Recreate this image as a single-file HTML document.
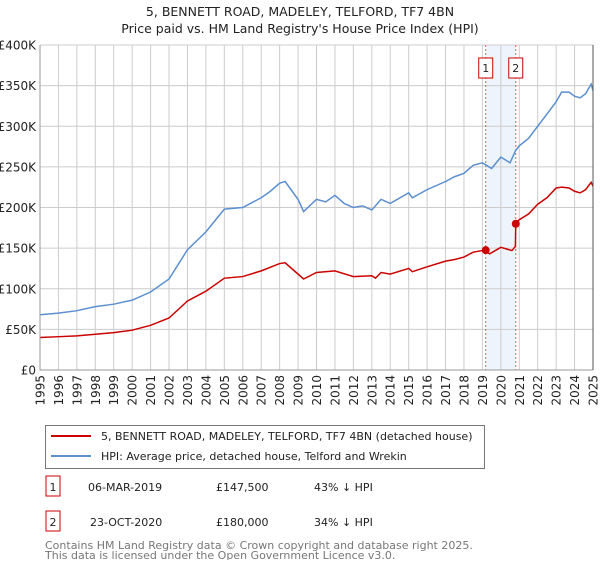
<!DOCTYPE html>
<html><head><meta charset="utf-8"><style>
body{margin:0;background:#fff;font-family:"Liberation Sans","DejaVu Sans",sans-serif;}
svg text{font-family:"DejaVu Sans","Liberation Sans",sans-serif;}
</style></head><body>
<svg id="c" width="600" height="560" viewBox="0 0 600 560" xmlns="http://www.w3.org/2000/svg">
<text x="300" y="16" text-anchor="middle" font-size="12.5" fill="#222">5, BENNETT ROAD, MADELEY, TELFORD, TF7 4BN</text>
<text x="300" y="33" text-anchor="middle" font-size="12.5" fill="#222">Price paid vs. HM Land Registry's House Price Index (HPI)</text>
<g id="grid"></g><g id="marks"></g><g id="axes"></g>
<g>
<rect x="45.5" y="425.5" width="439" height="43" fill="#fff" stroke="#777"/>
<line x1="51" y1="436" x2="91" y2="436" stroke="#cc0000" stroke-width="2"/>
<text x="101" y="440" font-size="11" fill="#222">5, BENNETT ROAD, MADELEY, TELFORD, TF7 4BN (detached house)</text>
<line x1="51" y1="456" x2="91" y2="456" stroke="#5b8fd0" stroke-width="2"/>
<text x="101" y="460" font-size="11" fill="#222">HPI: Average price, detached house, Telford and Wrekin</text>
</g>
<g font-size="11" fill="#222">
<rect x="46" y="476" width="14" height="20" fill="#fff" stroke="#cc0000"/><text x="53" y="491" text-anchor="middle">1</text>
<text x="88" y="491">06-MAR-2019</text><text x="216" y="491">£147,500</text><text x="314" y="491">43% ↓ HPI</text>
<rect x="46" y="511" width="14" height="20" fill="#fff" stroke="#cc0000"/><text x="53" y="526" text-anchor="middle">2</text>
<text x="90" y="526">23-OCT-2020</text><text x="216" y="526">£180,000</text><text x="314" y="526">34% ↓ HPI</text>
</g>
<text x="45" y="549" font-size="11" fill="#777">Contains HM Land Registry data © Crown copyright and database right 2025.</text>
<text x="45" y="559" font-size="11" fill="#777">This data is licensed under the Open Government Licence v3.0.</text>
</svg>
<script>
const hpiYears=[1995,1996,1997,1998,1999,2000,2001,2002,2003,2004,2005,2006,2007,2007.5,2008,2008.3,2009,2009.3,2010,2010.5,2011,2011.5,2012,2012.5,2013,2013.5,2014,2015,2015.2,2016,2017,2017.5,2018,2018.5,2019,2019.5,2020,2020.5,2020.8,2021,2021.5,2022,2022.5,2023,2023.3,2023.7,2024,2024.3,2024.6,2024.9,2025];
const hpiValues=[68,70,73,78,81,86,96,112,148,170,198,200,212,220,230,232,210,195,210,207,215,205,200,202,197,210,205,218,212,222,232,238,242,252,255,248,262,255,270,276,285,300,315,330,342,342,337,335,340,352,344];
const propYears=[1995,1996,1997,1998,1999,2000,2001,2002,2003,2004,2005,2006,2007,2008,2008.3,2009,2009.3,2010,2011,2012,2013,2013.2,2013.5,2014,2015,2015.2,2016,2017,2017.5,2018,2018.5,2019,2019.4,2020,2020.6,2020.79,2020.81,2021,2021.5,2022,2022.5,2023,2023.3,2023.7,2024,2024.3,2024.6,2024.9,2025];
const propValues=[40,41,42,44,46,49,55,64,85,97,113,115,122,131,132,118,112,120,122,115,116,113,120,118,125,121,127,134,136,139,145,147,143,151,147,152,180,185,192,204,212,224,225,224,220,218,222,231,226];
const saleYears=[2019.18,2020.81];
const saleValues=[147.5,180];
const saleLabels=["1","2"];
const yTicks=[0,50,100,150,200,250,300,350,400];
const yTickLabels=["£0","£50K","£100K","£150K","£200K","£250K","£300K","£350K","£400K"];
const xTicks=[1995,1996,1997,1998,1999,2000,2001,2002,2003,2004,2005,2006,2007,2008,2009,2010,2011,2012,2013,2014,2015,2016,2017,2018,2019,2020,2021,2022,2023,2024,2025];

const NS="http://www.w3.org/2000/svg";
const X0=40,X1=593,Y0=370,Y1=45;
const xs=y=>X0+(y-1995)/30*(X1-X0);
const ys=v=>Y0-v/400*(Y0-Y1);
function mk(tag,attrs,parent){const e=document.createElementNS(NS,tag);for(const k in attrs)e.setAttribute(k,attrs[k]);parent.appendChild(e);return e;}
const grid=document.getElementById('grid'),marks=document.getElementById('marks'),axes=document.getElementById('axes');
const sh=mk('rect',{x:xs(saleYears[0]),y:Y1,width:xs(saleYears[1])-xs(saleYears[0]),height:Y0-Y1,fill:'#eef4fc'},grid);


yTicks.forEach((t,i)=>{
  const l=mk('line',{x1:X0,x2:X1,y1:ys(t),y2:ys(t),stroke:'#ccc','stroke-width':1},grid);
  
  
  const tx=mk('text',{x:36,y:ys(t)+4.5,'text-anchor':'end','font-size':12,fill:'#222'},axes);
  tx.textContent=yTickLabels[i];
  
  
});
xTicks.forEach(t=>{
  const l=mk('line',{x1:xs(t),x2:xs(t),y1:Y1,y2:Y0,stroke:'#ccc','stroke-width':1},grid);
  
  
  const tx=mk('text',{x:0,y:0,'text-anchor':'end','font-size':12,fill:'#222',transform:`translate(${xs(t)+4.5},375) rotate(-90)`},axes);
  tx.textContent=t;
  
  
});
saleYears.forEach((y,i)=>{
  const l=mk('line',{x1:xs(y),x2:xs(y),y1:Y1,y2:Y0,stroke:'#e55','stroke-width':1,'stroke-dasharray':'2,2'},marks);
  
  
  const b=mk('rect',{x:xs(y)-7,y:58,width:14,height:20,fill:'#fff',stroke:'#cc0000'},marks);
  
  
  const tx=mk('text',{x:xs(y),y:72,'text-anchor':'middle','font-size':11,fill:'#222'},marks);
  tx.textContent=saleLabels[i];
  
  
});
const hp=mk('polyline',{points:hpiYears.map((y,i)=>xs(y)+','+ys(hpiValues[i])).join(' '),fill:'none',stroke:'#5b8fd0','stroke-width':1.5},marks);


const pp=mk('polyline',{points:propYears.map((y,i)=>xs(y)+','+ys(propValues[i])).join(' '),fill:'none',stroke:'#cc0000','stroke-width':1.5},marks);


saleYears.forEach((y,i)=>{
  const c=mk('circle',{cx:xs(y),cy:ys(saleValues[i]),r:4,fill:'#cc0000'},marks);
  
  
});
const ax=mk('path',{d:`M${X0},${Y1}V${Y0}H${X1}`,fill:'none',stroke:'#999','stroke-width':1},axes);


const ri=mk('line',{x1:X1,x2:X1,y1:Y1,y2:Y0,stroke:'#555','stroke-width':1},axes);


</script>
</body></html>
